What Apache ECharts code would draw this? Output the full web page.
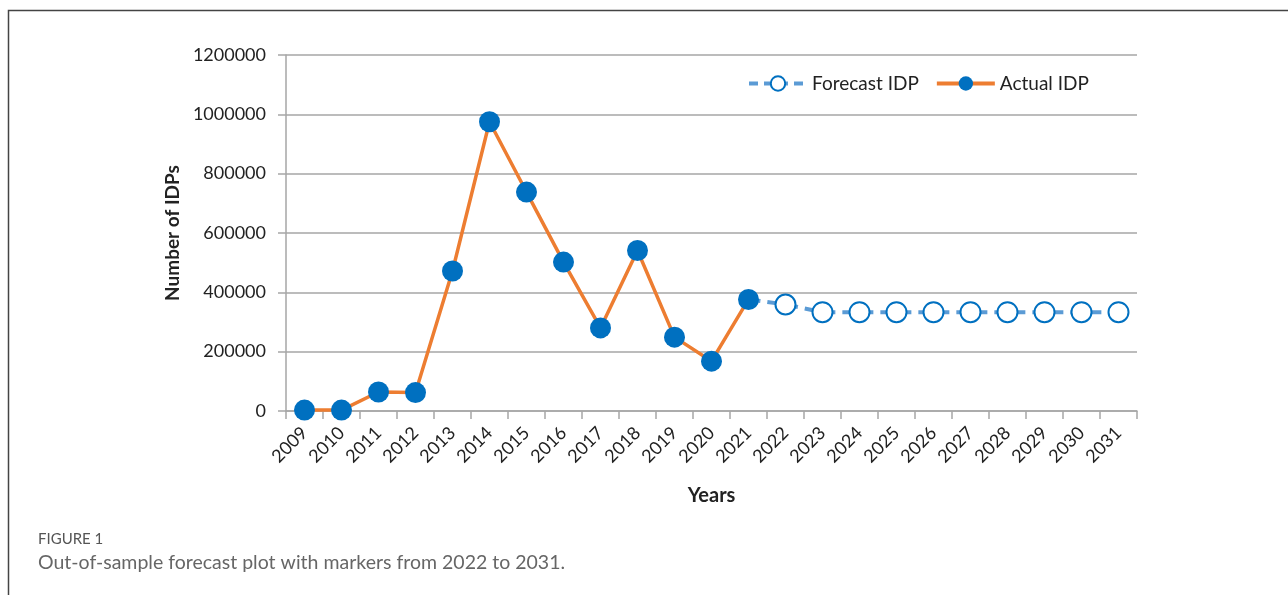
<!DOCTYPE html>
<html>
<head>
<meta charset="utf-8">
<script src="https://cdn.jsdelivr.net/npm/echarts@6/dist/echarts.min.js"></script>
<style>
html,body{margin:0;padding:0;background:#fff;}
#chart{width:1288px;height:595px;}
</style>
</head>
<body>
<div id="chart"></div>
<script>
var years = ['2009','2010','2011','2012','2013','2014','2015','2016','2017','2018','2019','2020','2021','2022','2023','2024','2025','2026','2027','2028','2029','2030','2031'];
var actualIDP = [3000, 3000, 64000, 62000, 472000, 975000, 738000, 502000, 280000, 541000, 249000, 168000, 376000, null, null, null, null, null, null, null, null, null, null];
var forecastIDP = [null, null, null, null, null, null, null, null, null, null, null, null, 376000, 359000, 333000, 333000, 333000, 333000, 333000, 333000, 333000, 333000, 333000];
var yTicks = [0, 200000, 400000, 600000, 800000, 1000000, 1200000];

var font = 'Lato, "Open Sans", sans-serif';
var chart = echarts.init(document.getElementById('chart'), null, {renderer: 'canvas'});
var forecastData = forecastIDP.map(function (v, i) {
  if (i === 12) return {value: v, symbol: 'none'};
  return v;
});
chart.setOption({
  animation: false,
  backgroundColor: '#fff',
  grid: {left: 286, right: 151, top: 55, bottom: 184, containLabel: false},
  legend: {
    top: 74, left: 747,
    itemWidth: 58, itemHeight: 18, itemGap: 16, padding: 0,
    textStyle: {fontFamily: font, fontSize: 19, color: '#222', padding: [0, 0, 0, 0]},
    data: [
      {name: 'Forecast IDP', lineStyle: {width: 4, type: [9, 6], color: '#5b9bd5'}},
      {name: 'Actual IDP', lineStyle: {width: 4, color: '#ed7d31'}}
    ]
  },
  xAxis: {
    type: 'category',
    data: years,
    boundaryGap: true,
    name: 'Years',
    nameLocation: 'middle',
    nameGap: 75,
    nameTextStyle: {fontFamily: font, fontSize: 20, fontWeight: 'bold', color: '#222'},
    axisLine: {lineStyle: {color: '#a6a6a6', width: 1.5}},
    axisTick: {show: true, alignWithLabel: false, length: 8, lineStyle: {color: '#a6a6a6', width: 1.5}},
    axisLabel: {rotate: 45, margin: 19, fontFamily: font, fontSize: 18, color: '#222', interval: 0},
    splitLine: {show: false}
  },
  yAxis: {
    type: 'value',
    min: 0, max: 1200000, interval: 200000,
    name: 'Number of IDPs',
    nameLocation: 'middle',
    nameGap: 103,
    nameTextStyle: {fontFamily: font, fontSize: 19, fontWeight: 'bold', color: '#222'},
    axisLine: {show: true, lineStyle: {color: '#a6a6a6', width: 1.5}},
    axisTick: {show: true, length: 8, lineStyle: {color: '#a6a6a6', width: 1.5}},
    axisLabel: {margin: 20, fontFamily: font, fontSize: 18, color: '#222',
      formatter: function (v) { return yTicks.indexOf(v) >= 0 ? String(v) : ''; }},
    splitLine: {show: true, lineStyle: {color: '#a6a6a6', width: 1.5}}
  },
  series: [
    {
      name: 'Forecast IDP',
      type: 'line',
      data: forecastData,
      z: 2,
      symbol: 'circle',
      symbolSize: 20,
      showAllSymbol: true,
      connectNulls: false,
      lineStyle: {color: '#5b9bd5', width: 4, type: [12, 7]},
      itemStyle: {color: '#ffffff', borderColor: '#0070c0', borderWidth: 2}
    },
    {
      name: 'Actual IDP',
      type: 'line',
      data: actualIDP,
      z: 3,
      symbol: 'circle',
      symbolSize: 21,
      showAllSymbol: true,
      lineStyle: {color: '#ed7d31', width: 3.5},
      itemStyle: {color: '#0070c0', borderWidth: 0}
    }
  ],
  graphic: [
    {type: 'polyline', shape: {points: [[8.5, 600], [8.5, 10.5], [1290, 10.5]]},
      style: {stroke: '#444', lineWidth: 1.5, fill: null}, silent: true},
    {type: 'text', left: 38, top: 532,
      style: {text: 'FIGURE 1', fontFamily: font, fontSize: 15, fill: '#555'}},
    {type: 'text', left: 38, top: 553,
      style: {text: 'Out-of-sample forecast plot with markers from 2022 to 2031.', fontFamily: font, fontSize: 19.5, fill: '#666'}}
  ]
});
</script>
</body>
</html>
